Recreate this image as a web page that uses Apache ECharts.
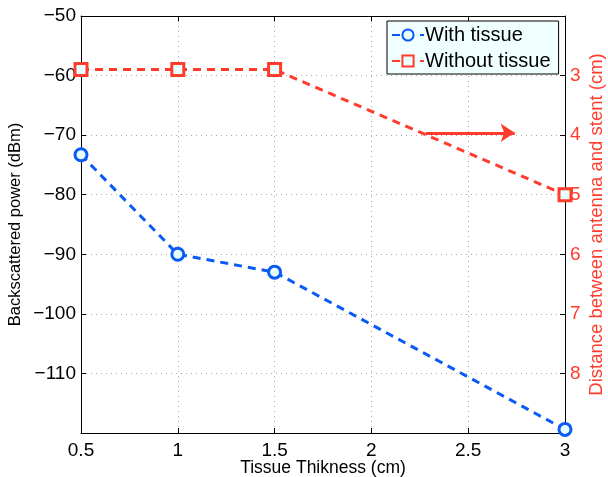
<!DOCTYPE html>
<html>
<head>
<meta charset="utf-8">
<script src="https://cdn.jsdelivr.net/npm/echarts@6/dist/echarts.min.js"></script>
<style>html,body{margin:0;padding:0;background:#fff;}#c{width:608px;height:477px;}</style>
</head>
<body>
<div id="c"></div>
<script>
const thicknessWith = [0.5, 1, 1.5, 3];
const powerWith = [-73.3, -90, -93, -119.4];
const thicknessWithout = [0.5, 1, 1.5, 3];
const distanceWithout = [2.9, 2.9, 2.9, 5];
const arrowX = [2.28, 2.74];
const arrowY = 3.96;

const blue = '#0a5af5';
const red = '#ff3b2b';
const font = 'Liberation Sans, Arial, Helvetica, sans-serif';
const fmtMinus = v => String(v).replace('-', '\u2212');

const chart = echarts.init(document.getElementById('c'));
chart.setOption({
  animation: false,
  backgroundColor: '#fff',
  grid: { left: 81, right: 43, top: 16, bottom: 44, containLabel: false, outerBoundsMode: 'none' },
  legend: {
    orient: 'vertical',
    left: 387, top: 21,
    width: 175,
    padding: [4, 8, 3, 4],
    itemGap: 6,
    itemWidth: 32, itemHeight: 14,
    backgroundColor: '#f0ffff',
    borderColor: '#000', borderWidth: 1,
    textStyle: { fontFamily: font, fontSize: 20, color: '#000', padding: [0, 0, 0, -4] },
    data: ['With tissue', 'Without tissue']
  },
  xAxis: [{
    type: 'value', min: 0.5, max: 3, interval: 0.5,
    name: 'Tissue Thikness (cm)', nameLocation: 'middle', nameGap: 26, nameMoveOverlap: false,
    nameTextStyle: { fontFamily: font, fontSize: 17.5, color: '#000' },
    axisLine: { show: true, lineStyle: { color: '#000', width: 1 } },
    axisTick: { show: true, inside: true, length: 5, lineStyle: { color: '#000' } },
    axisLabel: { fontFamily: font, fontSize: 19, color: '#000', margin: 8 },
    splitLine: { show: true, lineStyle: { color: '#aaa', type: [1, 4], width: 1 } }
  }, {
    type: 'value', min: 0.5, max: 3, interval: 0.5, position: 'top',
    axisLine: { show: true, lineStyle: { color: '#000', width: 1 } },
    axisTick: { show: true, inside: true, length: 5, lineStyle: { color: '#000' } },
    axisLabel: { show: false }, splitLine: { show: false }
  }],
  yAxis: [{
    type: 'value', min: -120, max: -50, interval: 10,
    name: 'Backscattered power (dBm)', nameLocation: 'middle', nameGap: 57, nameMoveOverlap: false,
    nameTextStyle: { fontFamily: font, fontSize: 16.5, color: '#000' },
    axisLine: { show: true, lineStyle: { color: '#000', width: 1 } },
    axisTick: { show: true, inside: true, length: 5, lineStyle: { color: '#000' } },
    axisLabel: { fontFamily: font, fontSize: 19, color: '#000', margin: 5, showMinLabel: false, formatter: fmtMinus },
    splitLine: { show: true, lineStyle: { color: '#aaa', type: [1, 4], width: 1 } }
  }, {
    type: 'value', min: 2, max: 9, interval: 1, inverse: true, position: 'right',
    name: 'Distance between antenna and stent (cm)', nameLocation: 'middle', nameGap: 22, nameMoveOverlap: false,
    nameRotate: 90,
    nameTextStyle: { fontFamily: font, fontSize: 18.5, color: red },
    axisLine: { show: true, lineStyle: { color: '#000', width: 1 } },
    axisTick: { show: true, inside: true, length: 5, lineStyle: { color: '#000' } },
    axisLabel: { fontFamily: font, fontSize: 19, color: red, margin: 5, showMinLabel: false, showMaxLabel: false },
    splitLine: { show: false }
  }],
  series: [{
    name: 'With tissue', type: 'line', xAxisIndex: 0, yAxisIndex: 0,
    data: thicknessWith.map((x, i) => [x, powerWith[i]]),
    symbol: 'circle', symbolSize: 12,
    lineStyle: { color: blue, width: 3, type: [8, 6] },
    itemStyle: { color: '#e8ffff', borderColor: blue, borderWidth: 3 },
    z: 3
  }, {
    name: 'Without tissue', type: 'line', xAxisIndex: 0, yAxisIndex: 1,
    data: thicknessWithout.map((x, i) => [x, distanceWithout[i]]),
    symbol: 'rect', symbolSize: 12,
    lineStyle: { color: red, width: 3, type: [8, 6] },
    itemStyle: { color: '#e8ffff', borderColor: red, borderWidth: 3 },
    z: 3,
    markLine: {
      silent: true, animation: false,
      symbol: ['none', 'arrow'], symbolSize: 14,
      label: { show: false },
      lineStyle: { color: red, width: 3, type: 'solid' },
      data: [[{ coord: [arrowX[0], arrowY] }, { coord: [arrowX[1], arrowY] }]]
    }
  }]
});
</script>
</body>
</html>
